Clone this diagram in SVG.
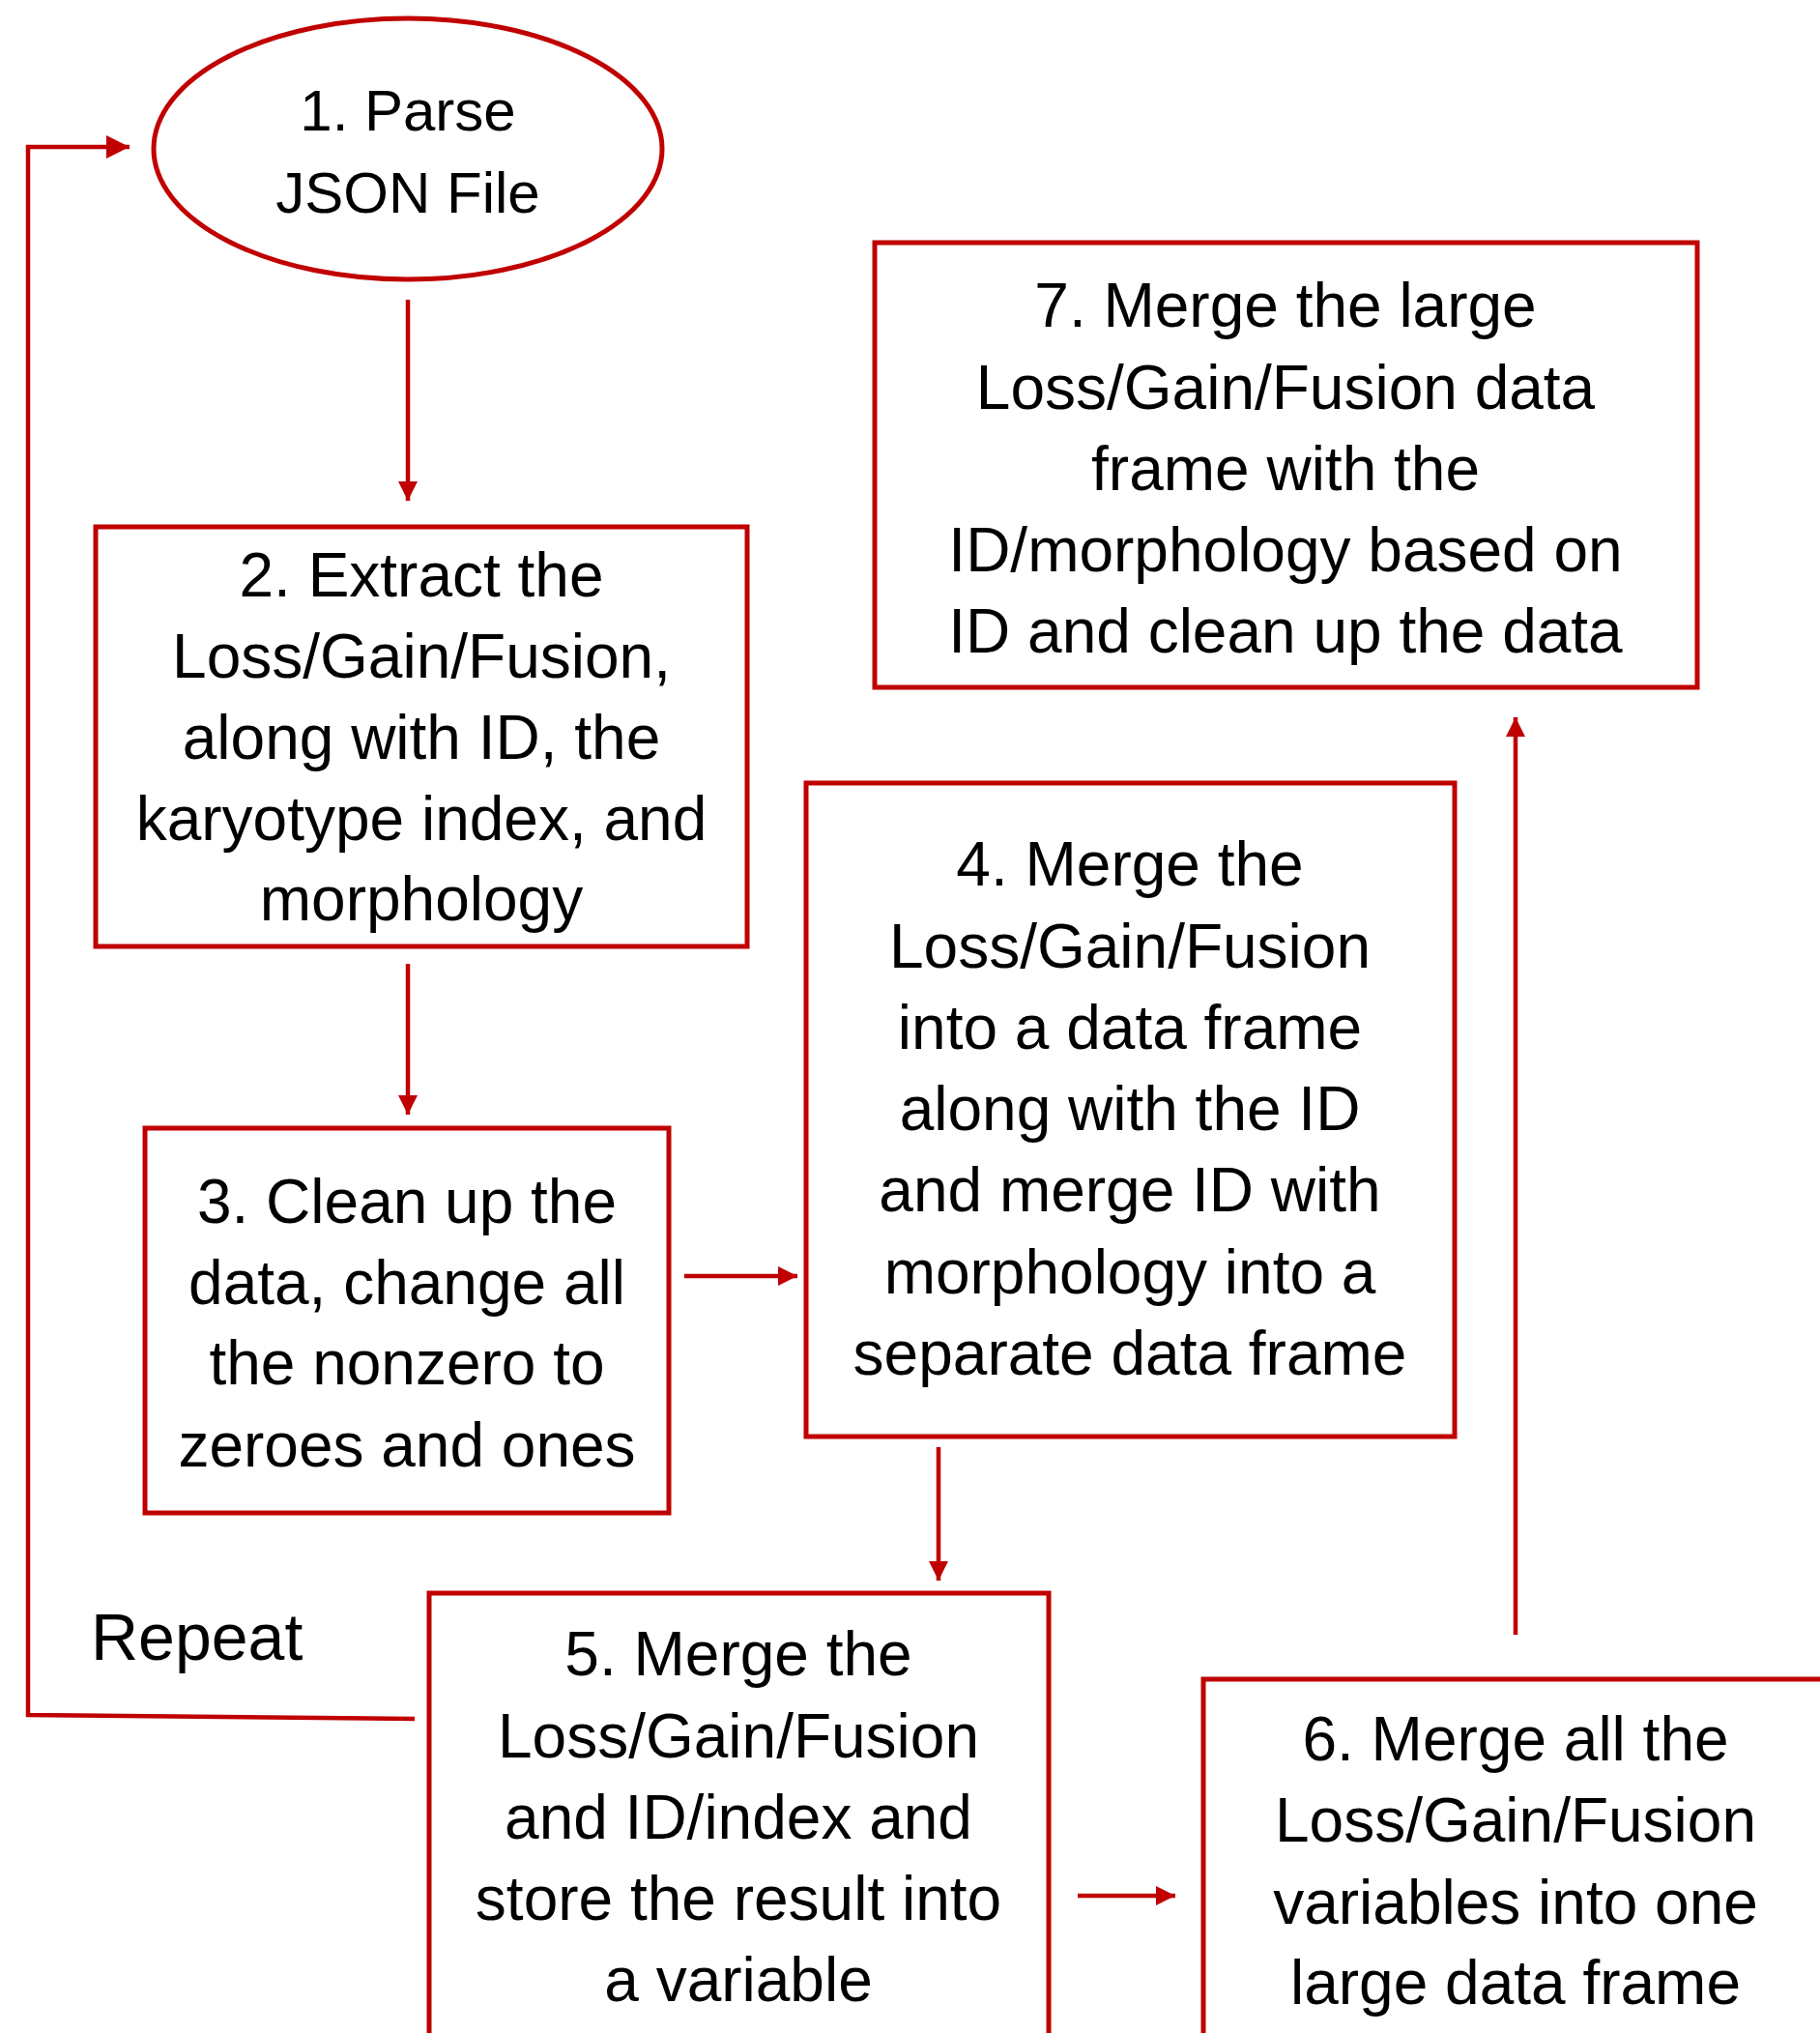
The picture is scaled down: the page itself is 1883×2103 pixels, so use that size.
<svg xmlns="http://www.w3.org/2000/svg" width="1883" height="2103" viewBox="0 0 1883 2103">
<defs>
<style>
.node{fill:#FFFFFF;stroke:#C00000;stroke-width:5}
.t{font-family:"Liberation Sans",Arial,sans-serif;font-size:64px;fill:#000000;text-anchor:middle}
.conn{fill:none;stroke:#C00000;stroke-width:4.5}
</style>
<marker id="ah" markerUnits="userSpaceOnUse" markerWidth="20" markerHeight="20" refX="20" refY="10" orient="auto">
<path d="M0,0 L20,10 L0,20 z" fill="#C00000"/>
</marker>
<marker id="ahb" markerUnits="userSpaceOnUse" markerWidth="24" markerHeight="24" refX="24" refY="12" orient="auto">
<path d="M0,0 L24,12 L0,24 z" fill="#C00000"/>
</marker>
</defs>
<rect x="0" y="0" width="1883" height="2103" fill="#FFFFFF"/>
<g id="connectors">
<line class="conn" x1="422" y1="310" x2="422" y2="518" marker-end="url(#ah)"/>
<line class="conn" x1="422" y1="997" x2="422" y2="1153" marker-end="url(#ah)"/>
<line class="conn" x1="708" y1="1320" x2="825" y2="1320" marker-end="url(#ah)"/>
<line class="conn" x1="971" y1="1497" x2="971" y2="1635" marker-end="url(#ah)"/>
<line class="conn" x1="1115" y1="1961" x2="1216" y2="1961" marker-end="url(#ah)"/>
<line class="conn" x1="1568" y1="1691" x2="1568" y2="742" marker-end="url(#ah)"/>
<path class="conn" d="M429,1778 L29,1774 L29,152 L134,152" marker-end="url(#ahb)"/>
</g>
<g id="repeat-label">
<text class="t" x="94" y="1717" style="text-anchor:start;font-size:68px">Repeat</text>
</g>
<g id="node1">
<ellipse class="node" cx="422" cy="154" rx="263" ry="135"/>
<text class="t" style="font-size:60px" x="422" y="135">1. Parse</text>
<text class="t" style="font-size:60px" x="422" y="220">JSON File</text>
</g>
<g id="node2">
<rect class="node" x="99" y="545" width="674" height="434"/>
<text class="t" x="436" y="617">2. Extract the</text>
<text class="t" x="436" y="701">Loss/Gain/Fusion,</text>
<text class="t" x="436" y="785">along with ID, the</text>
<text class="t" x="436" y="869">karyotype index, and</text>
<text class="t" x="436" y="952">morphology</text>
</g>
<g id="node3">
<rect class="node" x="150" y="1167" width="542" height="398"/>
<text class="t" x="421" y="1265">3. Clean up the</text>
<text class="t" x="421" y="1349">data, change all</text>
<text class="t" x="421" y="1432">the nonzero to</text>
<text class="t" x="421" y="1517">zeroes and ones</text>
</g>
<g id="node4">
<rect class="node" x="834" y="810" width="671" height="676"/>
<text class="t" x="1169" y="916">4. Merge the</text>
<text class="t" x="1169" y="1001">Loss/Gain/Fusion</text>
<text class="t" x="1169" y="1085">into a data frame</text>
<text class="t" x="1169" y="1169">along with the ID</text>
<text class="t" x="1169" y="1253">and merge ID with</text>
<text class="t" x="1169" y="1338">morphology into a</text>
<text class="t" x="1169" y="1422">separate data frame</text>
</g>
<g id="node5">
<rect class="node" x="444" y="1648" width="641" height="500"/>
<text class="t" x="764" y="1733">5. Merge the</text>
<text class="t" x="764" y="1818">Loss/Gain/Fusion</text>
<text class="t" x="764" y="1902">and ID/index and</text>
<text class="t" x="764" y="1986">store the result into</text>
<text class="t" x="764" y="2070">a variable</text>
</g>
<g id="node6">
<rect class="node" x="1245" y="1737" width="700" height="420"/>
<text class="t" x="1568" y="1821">6. Merge all the</text>
<text class="t" x="1568" y="1905">Loss/Gain/Fusion</text>
<text class="t" x="1568" y="1990">variables into one</text>
<text class="t" x="1568" y="2073">large data frame</text>
</g>
<g id="node7">
<rect class="node" x="905" y="251" width="851" height="460"/>
<text class="t" x="1330" y="338">7. Merge the large</text>
<text class="t" x="1330" y="423">Loss/Gain/Fusion data</text>
<text class="t" x="1330" y="507">frame with the</text>
<text class="t" x="1330" y="591">ID/morphology based on</text>
<text class="t" x="1330" y="675">ID and clean up the data</text>
</g>
</svg>
